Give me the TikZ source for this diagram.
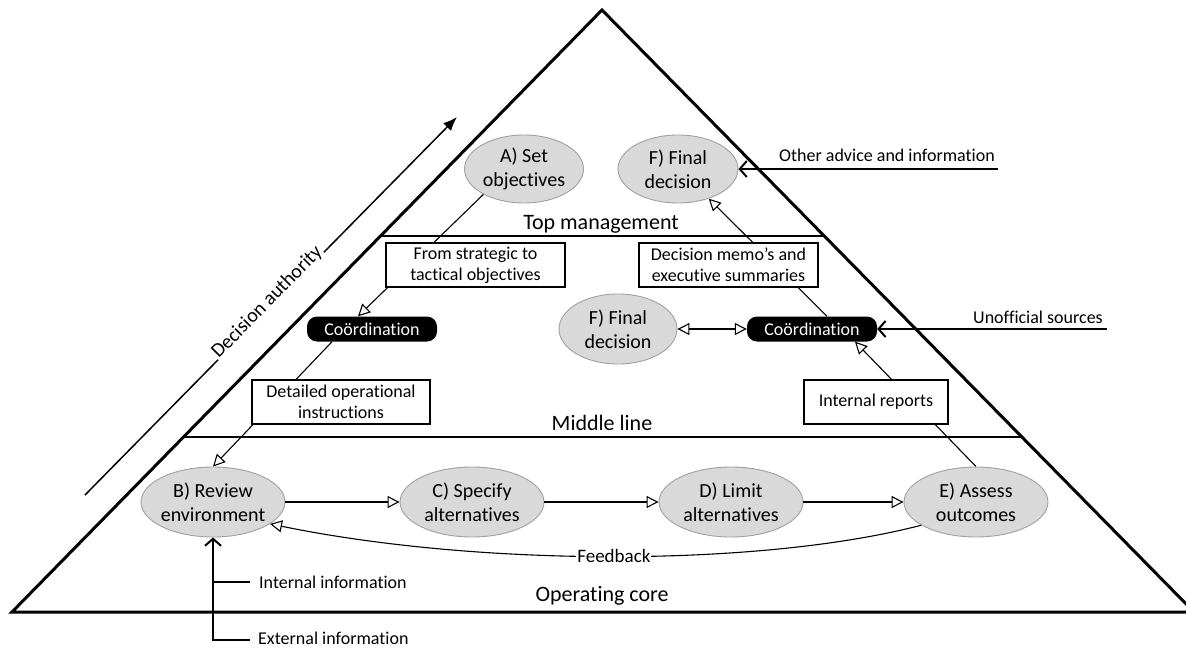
\documentclass[tikz,border=0pt]{standalone}
\usepackage{fontspec}
\setmainfont{Carlito}[Ligatures=NoCommon]
\usetikzlibrary{arrows.meta,shapes.geometric,backgrounds,calc}
\definecolor{procfill}{HTML}{D9D9D9}
\definecolor{procdraw}{HTML}{A0A0A0}
\begin{document}
\begin{tikzpicture}[x=1pt,y=-1pt,
  font=\fontsize{18}{21}\selectfont,
  proc/.style={ellipse, draw=procdraw, fill=procfill, line width=0.9pt, inner sep=0pt},
  ptext/.style={align=center, font=\fontsize{20}{24}\selectfont, inner sep=0pt},
  coordbox/.style={rectangle, rounded corners=10pt, fill=black, text=white, minimum width=130pt, minimum height=25pt, inner sep=0pt, font=\fontsize{18}{20}\selectfont},
  infobox/.style={rectangle, draw=black, fill=white, line width=1.3pt, align=center, minimum height=44pt, inner sep=0pt, font=\fontsize{18}{21}\selectfont},
  level/.style={font=\fontsize{22}{26}\selectfont, anchor=base, inner sep=0pt},
  sidelabel/.style={font=\fontsize{18}{21}\selectfont, inner sep=0pt},
  flow/.style={line width=1.1pt, -{Triangle[open, length=12pt, width=12pt]}},
  inflow/.style={line width=2pt, -{Straight Barb[length=7pt, width=16pt]}},
]
\useasboundingbox (0,0) rectangle (1186,648);

% pyramid and levels
\draw[line width=3pt, line join=miter] (602,10) -- (1194,612) -- (12,612) -- cycle;
\draw[line width=2pt] (380.5,236) -- (824,236);
\draw[line width=2pt] (183.5,437) -- (1022,437);
\node[level] (top) at (601,229) {Top management};
\node[level] (mid) at (602,430) {Middle line};
\node[level] (core) at (602,601) {Operating core};

% decision authority
\coordinate (da0) at (85,495);
\coordinate (da1) at (457,117);
\draw[line width=1.5pt, -{Latex[length=14pt, width=11pt]}] (da0) -- node[sloped, anchor=base, fill=white, inner sep=1pt, font=\fontsize{20}{24}\selectfont] (dal) {Decision authority} (da1);

% process ellipses
\node[proc, minimum width=119pt, minimum height=68pt] (A) at (524,169) {};
\node[ptext] (At) at (A) {A) Set\\objectives};
\node[proc, minimum width=120pt, minimum height=68pt] (F1) at (678,169) {};
\node[ptext] (F1t) at (F1) {F) Final\\decision};
\node[proc, minimum width=118pt, minimum height=70pt] (F2) at (618,329) {};
\node[ptext] (F2t) at (F2) {F) Final\\decision};
\node[proc, minimum width=144pt, minimum height=70pt] (B) at (213,502) {};
\node[ptext] (Bt) at (B) {B) Review\\environment};
\node[proc, minimum width=144pt, minimum height=70pt] (C) at (472,502) {};
\node[ptext] (Ct) at (C) {C) Specify\\alternatives};
\node[proc, minimum width=144pt, minimum height=70pt] (D) at (731,502) {};
\node[ptext] (Dt) at (D) {D) Limit\\alternatives};
\node[proc, minimum width=144pt, minimum height=70pt] (E) at (976,502) {};
\node[ptext] (Et) at (E) {E) Assess\\outcomes};

% coordination
\node[coordbox] (cL) at (372,329) {Coördination};
\node[coordbox] (cR) at (812,329) {Coördination};

% label boxes
\node[infobox, minimum width=179pt] (b1) at (475.5,265) {From strategic to\\tactical objectives};
\node[infobox, minimum width=179pt] (b2) at (728.5,265) {Decision memo’s and\\executive summaries};
\node[infobox, minimum width=178pt] (b3) at (341,402) {Detailed operational\\instructions};
\node[infobox, minimum width=144pt] (b4) at (876,402) {Internal reports};

% connectors passing behind label boxes
\begin{scope}[on background layer]
\draw[flow] (A.212) -- ([xshift=-14pt]cL.north);
\draw[flow] ([xshift=-40pt]cL.south) -- (B.north);
\draw[flow] (E.north) -- ([xshift=43pt]cR.south);
\draw[flow] ([xshift=15pt]cR.north) -- (F1.316);
\end{scope}

% operating flow
\draw[flow] (B) -- (C);
\draw[flow] (C) -- (D);
\draw[flow] (D) -- (E);
\draw[line width=1.1pt, {Triangle[open, length=12pt, width=12pt]}-{Triangle[open, length=12pt, width=12pt]}] (F2) -- (cR);
\draw[flow] (E.203) .. controls (760,567) and (480,567) .. (B.-21) node[pos=0.5, fill=white, inner sep=1pt, font=\fontsize{19}{22}\selectfont] (fb) {Feedback};

% inputs
\coordinate (ext) at (250,640);
\coordinate (int) at (250,582);
\draw[inflow] (ext) -| (B.south);
\draw[line width=2pt] (int) -- (int -| B.south);
\node[sidelabel, anchor=base west] (intl) at (259,588) {Internal information};
\node[sidelabel, anchor=base west] (extl) at (258,644.5) {External information};

\coordinate (oa) at (998,169);
\draw[inflow] (oa) -- (F1.east);
\node[sidelabel, anchor=base east] (oal) at (995,161) {Other advice and information};
\coordinate (uo) at (1107,329);
\draw[inflow] (uo) -- (cR.east);
\node[sidelabel, anchor=base east] (uol) at (1103,323) {Unofficial sources};
\end{tikzpicture}
\end{document}
